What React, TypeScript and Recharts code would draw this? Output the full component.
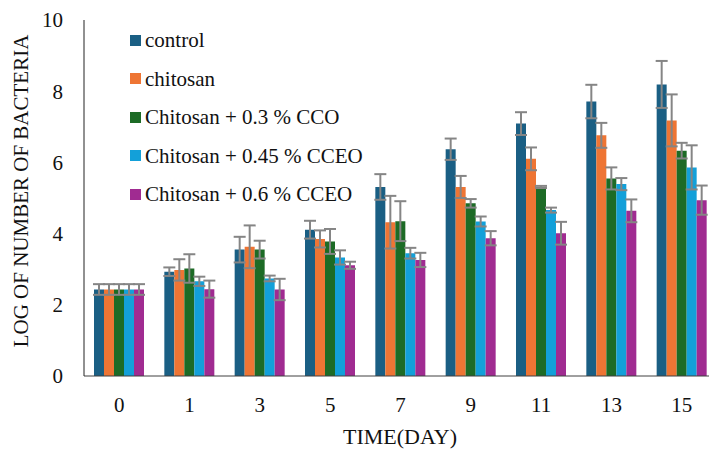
import { Bar, BarChart, ErrorBar, Label, XAxis, YAxis } from "recharts";

const days = ["0", "1", "3", "5", "7", "9", "11", "13", "15"];

const control = [2.43, 2.93, 3.55, 4.11, 5.31, 6.37, 7.09, 7.71, 8.19];
const controlErr = [0.15, 0.12, 0.36, 0.25, 0.36, 0.3, 0.32, 0.47, 0.66];
const chitosan = [2.43, 2.98, 3.63, 3.85, 4.32, 5.31, 6.1, 6.76, 7.18];
const chitosanErr = [0.15, 0.3, 0.6, 0.24, 0.74, 0.31, 0.32, 0.35, 0.73];
const cco03 = [2.43, 3.02, 3.55, 3.78, 4.35, 4.85, 5.31, 5.55, 6.33];
const cco03Err = [0.15, 0.4, 0.25, 0.35, 0.56, 0.12, 0.03, 0.31, 0.22];
const cceo045 = [2.43, 2.66, 2.74, 3.33, 3.45, 4.34, 4.66, 5.39, 5.86];
const cceo045Err = [0.15, 0.13, 0.08, 0.2, 0.15, 0.14, 0.07, 0.17, 0.62];
const cceo06 = [2.43, 2.44, 2.43, 3.11, 3.26, 3.87, 4.01, 4.64, 4.94];
const cceo06Err = [0.15, 0.24, 0.3, 0.1, 0.2, 0.2, 0.32, 0.32, 0.41];

const yTicks = [0, 2, 4, 6, 8, 10];

const SERIES = [
  { key: "control", name: "control", color: "#1a5f84" },
  { key: "chitosan", name: "chitosan", color: "#ee7534" },
  { key: "cco03", name: "Chitosan + 0.3 % CCO", color: "#1d6b26" },
  { key: "cceo045", name: "Chitosan + 0.45 % CCEO", color: "#13a0d9" },
  { key: "cceo06", name: "Chitosan + 0.6 % CCEO", color: "#a02b91" },
];

const data = days.map((day, i) => ({
  day,
  control: control[i],
  controlErr: controlErr[i],
  chitosan: chitosan[i],
  chitosanErr: chitosanErr[i],
  cco03: cco03[i],
  cco03Err: cco03Err[i],
  cceo045: cceo045[i],
  cceo045Err: cceo045Err[i],
  cceo06: cceo06[i],
  cceo06Err: cceo06Err[i],
}));

const FONT = "'Liberation Serif', 'Times New Roman', serif";

export default function App() {
  return (
    <div style={{ position: "relative", width: 709, height: 450, overflow: "hidden", fontFamily: FONT, background: "#fff" }}>
      <style>{"body{margin:0}"}</style>
      <BarChart
        width={717}
        height={450}
        data={data}
        margin={{ top: 20, right: 0, left: 0, bottom: 0 }}
        barSize={10}
        barGap={0}
        barCategoryGap={10}
      >
        <XAxis
          dataKey="day"
          height={74}
          tickLine={false}
          tickSize={6}
          tickMargin={15}
          stroke="#404040"
          tick={{ fill: "#111", fontSize: 21 }}
        >
          <Label
            content={() => (
              <text x={400} y={444} textAnchor="middle" fontSize={22} fill="#111">
                TIME(DAY)
              </text>
            )}
          />
        </XAxis>
        <YAxis
          width={84}
          domain={[0, 10]}
          ticks={yTicks}
          tickLine={false}
          tickSize={6}
          tickMargin={15}
          stroke="#222"
          tick={{ fill: "#111", fontSize: 21 }}
        >
          <Label
            content={() => (
              <text
                x={28}
                y={191}
                transform="rotate(-90 28 191)"
                textAnchor="middle"
                fontSize={21}
                fill="#111"
              >
                LOG OF NUMBER OF BACTERIA
              </text>
            )}
          />
        </YAxis>
        {SERIES.map((s) => (
          <Bar key={s.key} dataKey={s.key} name={s.name} fill={s.color} isAnimationActive={false}>
            <ErrorBar dataKey={`${s.key}Err`} width={6} strokeWidth={2} stroke="#858585" />
          </Bar>
        ))}
      </BarChart>
      <div style={{ position: "absolute", left: 130, top: 21 }}>
        {SERIES.map((s) => (
          <div key={s.key} style={{ display: "flex", alignItems: "center", height: 38.5, fontSize: 21, color: "#111" }}>
            <span style={{ display: "inline-block", width: 11, height: 11, background: s.color, marginRight: 4 }} />
            <span style={{ lineHeight: "24px" }}>{s.name}</span>
          </div>
        ))}
      </div>
    </div>
  );
}
